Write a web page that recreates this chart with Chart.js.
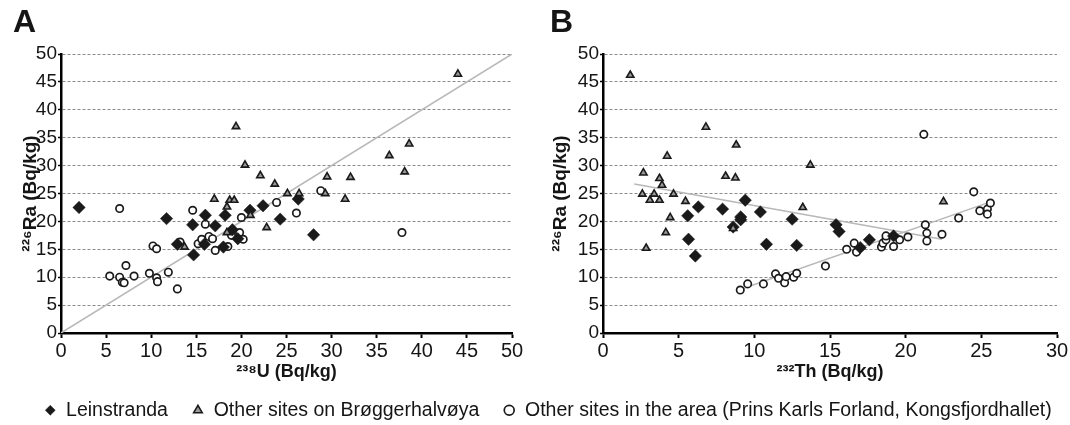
<!DOCTYPE html>
<html>
<head>
<meta charset="utf-8">
<script src="https://cdn.jsdelivr.net/npm/chart.js@4/dist/chart.umd.min.js"></script>
<style>
  html, body { margin: 0; padding: 0; background: #fff; }
  #wrap { position: relative; width: 1070px; height: 425px; overflow: hidden; }
  canvas { position: absolute; top: 0; }
  #ca { left: 13px; }
  #cb { left: 530px; }
</style>
</head>
<body>
<div id="wrap">
  <canvas id="ca" width="1070" height="430"></canvas>
  <canvas id="cb" width="540" height="385"></canvas>
</div>
<script>
// ---------- Panel A: 238U (x) vs 226Ra (y), Bq/kg ----------
const leinstrandaU   = [2.0, 11.7, 12.9, 14.6, 14.7, 15.9, 16.0, 17.1, 18.0, 18.2, 19.0, 19.6, 20.95, 22.4, 24.3, 26.3, 28.0];
const leinstrandaRaA = [22.5, 20.5, 15.9, 19.4, 14.0, 15.9, 21.1, 19.2, 15.4, 21.1, 18.5, 16.9, 22.0, 22.8, 20.4, 24.0, 17.6];

const broggerU   = [13.7, 17.0, 18.4, 18.4, 18.7, 19.2, 19.4, 20.4, 21.0, 22.1, 22.8, 23.7, 25.1, 26.4, 29.3, 29.5, 31.5, 32.1, 36.4, 38.1, 38.6, 44.0];
const broggerRaA = [15.4, 24.0, 22.6, 18.0, 23.8, 23.8, 37.0, 30.1, 21.1, 28.2, 18.9, 26.7, 25.0, 25.0, 25.0, 28.0, 24.0, 27.9, 31.8, 28.9, 33.9, 46.4];

const areaU   = [5.4, 6.5, 6.5, 6.8, 7.0, 7.2, 8.1, 9.8, 10.2, 10.6, 10.6, 10.7, 11.9, 12.9, 13.2, 14.6, 15.2, 15.6, 16.0, 16.4, 16.8, 17.1, 18.5, 18.9, 19.8, 20.0, 20.2, 23.9, 26.1, 28.8, 37.8];
const areaRaA = [10.2, 22.3, 10.0, 9.1, 9.0, 12.1, 10.2, 10.7, 15.6, 15.1, 9.9, 9.2, 10.9, 7.9, 16.3, 22.0, 16.0, 16.8, 19.5, 17.3, 16.9, 14.8, 15.5, 17.5, 18.0, 20.7, 16.8, 23.4, 21.5, 25.5, 18.0];

const oneToOneX = [0, 50];
const oneToOneY = [0, 50];

// ---------- Panel B: 232Th (x) vs 226Ra (y), Bq/kg ----------
const leinstrandaTh  = [5.6, 5.65, 6.1, 6.3, 7.9, 8.6, 9.1, 9.1, 9.4, 10.4, 10.8, 12.5, 12.8, 15.4, 15.6, 17.0, 17.6, 19.2];
const leinstrandaRaB = [21.0, 16.8, 13.8, 22.6, 22.2, 19.0, 20.8, 20.3, 23.8, 21.7, 15.9, 20.4, 15.7, 19.4, 18.2, 15.3, 16.7, 17.4];

const broggerTh  = [1.8, 2.6, 2.67, 2.85, 3.1, 3.38, 3.73, 3.73, 3.9, 4.15, 4.24, 4.44, 4.66, 5.45, 6.8, 8.1, 8.6, 8.75, 8.8, 13.2, 13.7, 22.5];
const broggerRaB = [46.2, 24.9, 28.7, 15.2, 23.8, 24.9, 27.7, 23.8, 26.5, 18.0, 31.7, 20.7, 24.9, 23.6, 36.9, 28.1, 18.75, 27.8, 33.7, 22.5, 30.1, 23.55];

const areaTh  = [9.07, 9.56, 10.6, 11.4, 11.6, 12.0, 12.1, 12.6, 12.8, 14.7, 16.1, 16.6, 16.75, 18.4, 18.5, 18.7, 18.7, 19.2, 19.6, 20.15, 21.2, 21.3, 21.4, 21.4, 22.4, 23.5, 24.5, 24.9, 25.4, 25.4, 25.6];
const areaRaB = [7.7, 8.8, 8.8, 10.6, 9.8, 9.0, 10.1, 10.0, 10.7, 12.0, 15.0, 16.1, 14.5, 15.4, 16.1, 16.7, 17.4, 15.5, 16.7, 17.2, 35.6, 19.4, 17.9, 16.5, 17.7, 20.6, 25.3, 21.9, 22.2, 21.3, 23.3];

const trendBroggerX = [2.07, 22.4];
const trendBroggerY = [26.7, 16.8];
const trendAreaX = [9.07, 25.6];
const trendAreaY = [7.8, 23.5];

// ---------- labels ----------
const seriesNames = ['Leinstranda', 'Other sites on Brøggerhalvøya', 'Other sites in the area (Prins Karls Forland, Kongsfjordhallet)'];
const yTicks = [0, 50, 5];
const xTicksA = [0, 50, 5];
const xTicksB = [0, 30, 5];
const titleYA = '²²⁶Ra (Bq/kg)';
const titleXA = '²³⁸U (Bq/kg)';
const titleXB = '²³²Th (Bq/kg)';

const FONT = "'Liberation Sans', Arial, Helvetica, sans-serif";
const TXT = '#151515';
const zip = (xs, ys) => xs.map((x, i) => ({x, y: ys[i]}));

function pointSets(lx, ly, bx, by, ax, ay) {
  return [
    { label: seriesNames[0], data: zip(lx, ly), pointStyle: 'rectRot', pointRadius: 6.2,
      backgroundColor: '#1a1a1a', borderColor: '#1a1a1a', borderWidth: 0.5, showLine: false, order: 1 },
    { label: seriesNames[1], data: zip(bx, by), pointStyle: 'triangle', pointRadius: 4.2,
      backgroundColor: '#9a9a9a', borderColor: '#1a1a1a', borderWidth: 1.6, showLine: false, order: 0 },
    { label: seriesNames[2], data: zip(ax, ay), pointStyle: 'circle', pointRadius: 3.7,
      backgroundColor: '#ffffff', borderColor: '#1a1a1a', borderWidth: 1.7, showLine: false, order: 2 }
  ];
}
function lineSet(xs, ys) {
  return { label: 'trend', data: zip(xs, ys), type: 'line', showLine: true, pointRadius: 0,
    borderColor: '#b8b8b8', borderWidth: 1.5, fill: false, order: 10, tension: 0 };
}

function xScale(range, title, titlePadBottom, heightFn) {
  return {
    type: 'linear', position: 'bottom', min: range[0], max: range[1],
    ticks: { stepSize: range[2], font: { family: FONT, size: 20 }, color: TXT, padding: 1, maxRotation: 0, autoSkip: false },
    grid: { display: true, drawOnChartArea: false, drawTicks: true, tickLength: 5, tickColor: '#000', tickWidth: 2 },
    border: { display: true, color: '#000', width: 2.5 },
    title: { display: true, text: title, font: { family: FONT, size: 18, weight: 'bold' }, color: TXT,
      padding: { top: 0, bottom: titlePadBottom } },
    afterFit: heightFn
  };
}
function yScale(title, width, titlePad) {
  return {
    type: 'linear', position: 'left', min: yTicks[0], max: yTicks[1],
    ticks: { stepSize: yTicks[2], font: { family: FONT, size: 19 }, color: TXT, padding: 1 },
    grid: { display: true, color: '#8c8c8c', lineWidth: 1, drawTicks: true, tickLength: 3, tickColor: '#000', tickWidth: 1.5 },
    border: { display: true, color: '#000', width: 2.5, dash: [3, 2] },
    title: { display: true, text: title, font: { family: FONT, size: 19, weight: 'bold' }, color: TXT,
      padding: { top: titlePad, bottom: 0 } },
    afterFit: s => { s.width = width; }
  };
}
function panelTitle(t) {
  return { display: true, text: t, align: 'start', color: TXT,
    font: { family: FONT, size: 32, weight: 'bold' }, padding: { top: 4.3, bottom: 11.3 } };
}

// ---------- Chart A (also carries the shared legend) ----------
new Chart(document.getElementById('ca'), {
  type: 'scatter',
  data: { datasets: [...pointSets(leinstrandaU, leinstrandaRaA, broggerU, broggerRaA, areaU, areaRaA), lineSet(oneToOneX, oneToOneY)] },
  options: {
    responsive: false, animation: false, devicePixelRatio: 1,
    layout: { padding: 0 },
    plugins: {
      title: panelTitle('A'),
      tooltip: { enabled: false },
      legend: {
        display: true, position: 'bottom', align: 'center',
        labels: {
          usePointStyle: true, boxWidth: 12, boxHeight: 7, padding: 24, color: TXT,
          font: { family: FONT, size: 19.5 },
          filter: item => item.datasetIndex < 3,
          sort: (a, b) => a.datasetIndex - b.datasetIndex
        }
      }
    },
    scales: {
      x: xScale(xTicksA, titleXA, -6.3, s => { s.height = s.chart.height - 333 - (s.chart.legend ? s.chart.legend.height : 0); }),
      y: yScale(titleYA, 48, 6.1),
      yPad: { type: 'linear', position: 'right', min: 0, max: 50, display: true,
        ticks: { display: false }, grid: { display: false }, border: { display: false },
        afterFit: s => { s.width = 571; } }
    }
  }
});

// ---------- Chart B ----------
new Chart(document.getElementById('cb'), {
  type: 'scatter',
  data: { datasets: [...pointSets(leinstrandaTh, leinstrandaRaB, broggerTh, broggerRaB, areaTh, areaRaB), lineSet(trendBroggerX, trendBroggerY), lineSet(trendAreaX, trendAreaY)] },
  options: {
    responsive: false, animation: false, devicePixelRatio: 1,
    layout: { padding: { left: 20, top: 0, right: 13, bottom: 0 } },
    plugins: {
      title: panelTitle('B'),
      tooltip: { enabled: false },
      legend: { display: false }
    },
    scales: {
      x: xScale(xTicksB, titleXB, 2.2, s => { s.height = 385 - 333; }),
      y: yScale(titleYA, 53, -0.4)
    }
  }
});
</script>
</body>
</html>
